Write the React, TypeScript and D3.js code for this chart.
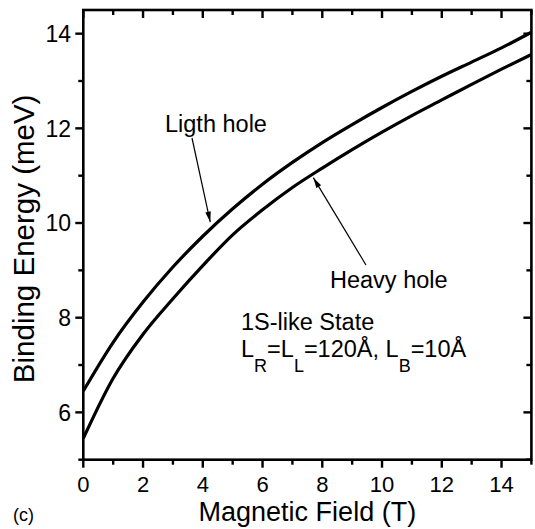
import { useEffect } from 'react'
import * as d3 from 'd3'

// Magnetic field (T)
const fieldT = [0, 1, 2, 3, 4, 5, 6, 7, 8, 9, 10, 11, 12, 13, 14, 15]
// binding energies (meV)
const lightHole = [6.45, 7.48, 8.33, 9.07, 9.72, 10.3, 10.82, 11.28, 11.7, 12.08, 12.44, 12.78, 13.1, 13.4, 13.7, 14.03]
const heavyHole = [5.45, 6.72, 7.65, 8.4, 9.1, 9.75, 10.28, 10.75, 11.16, 11.55, 11.92, 12.27, 12.6, 12.93, 13.25, 13.56]

const xMajor = [0, 2, 4, 6, 8, 10, 12, 14]
const xMinor = [1, 3, 5, 7, 9, 11, 13, 15]
const yMajor = [6, 8, 10, 12, 14]
const yMinor = [5, 7, 9, 11, 13]

const W = 535
const H = 529
const FONT = 'Liberation Sans, Arial, Helvetica, sans-serif'

export default function App() {
  useEffect(() => {
    document.body.style.margin = '0'
  }, [])

  const x = d3.scaleLinear().domain([0, 15]).range([83.3, 531.4])
  const y = d3.scaleLinear().domain([5, 14.5]).range([459.7, 10])
  const [x0, x1] = x.range()
  const [y0, y1] = y.range()

  const line = d3.line<number>()
    .x((_, i) => x(fieldT[i]))
    .y(d => y(d))
    .curve(d3.curveMonotoneX)

  const majLen = 8
  const minLen = 5
  const sub = 15 // subscript drop

  return (
    <svg width={W} height={H} style={{ display: 'block', background: '#fff' }} fontFamily={FONT}>
      <defs>
        <marker id="arr" viewBox="0 0 12 8" refX="12" refY="4" markerWidth="12" markerHeight="7" orient="auto" markerUnits="userSpaceOnUse">
          <path d="M0,0.8 L12,4 L0,7.2 Z" fill="#000" />
        </marker>
      </defs>

      {/* curves */}
      <path d={line(lightHole) ?? ''} fill="none" stroke="#000" strokeWidth={3.2} />
      <path d={line(heavyHole) ?? ''} fill="none" stroke="#000" strokeWidth={3.2} />

      {/* frame */}
      <rect x={x0} y={y1} width={x1 - x0} height={y0 - y1} fill="none" stroke="#000" strokeWidth={2.6} />

      {/* x ticks: bottom outward, top inward */}
      {xMajor.map(t => (
        <g key={'xM' + t}>
          <line x1={x(t)} x2={x(t)} y1={y0} y2={y0 + majLen} stroke="#000" strokeWidth={2.4} />
          <line x1={x(t)} x2={x(t)} y1={y1} y2={y1 + majLen} stroke="#000" strokeWidth={2.4} />
          <text x={x(t)} y={492} textAnchor="middle" fontSize={22}>{t}</text>
        </g>
      ))}
      {xMinor.map(t => (
        <g key={'xm' + t}>
          <line x1={x(t)} x2={x(t)} y1={y0} y2={y0 + minLen} stroke="#000" strokeWidth={2.4} />
          <line x1={x(t)} x2={x(t)} y1={y1} y2={y1 + minLen} stroke="#000" strokeWidth={2.4} />
        </g>
      ))}

      {/* y ticks: left outward, right inward */}
      {yMajor.map(v => (
        <g key={'yM' + v}>
          <line x1={x0 - majLen} x2={x0} y1={y(v)} y2={y(v)} stroke="#000" strokeWidth={2.4} />
          <line x1={x1 - majLen} x2={x1} y1={y(v)} y2={y(v)} stroke="#000" strokeWidth={2.4} />
          <text x={71} y={y(v)} dy="0.36em" textAnchor="end" fontSize={23}>{v}</text>
        </g>
      ))}
      {yMinor.map(v => (
        <g key={'ym' + v}>
          <line x1={x0 - minLen} x2={x0} y1={y(v)} y2={y(v)} stroke="#000" strokeWidth={2.4} />
          <line x1={x1 - minLen} x2={x1} y1={y(v)} y2={y(v)} stroke="#000" strokeWidth={2.4} />
        </g>
      ))}

      {/* axis titles */}
      <text x={(x0 + x1) / 2} y={521} textAnchor="middle" fontSize={27}>Magnetic Field (T)</text>
      <text transform={`translate(34,${(y0 + y1) / 2 + 4}) rotate(-90)`} textAnchor="middle" fontSize={29.5}>Binding Energy (meV)</text>
      <text x={13} y={521} fontSize={18}>(c)</text>

      {/* annotations */}
      <text x={165} y={131.5} fontSize={23.5}>Ligth hole</text>
      <line x1={192} y1={138} x2={x(4.25)} y2={y(10.02)} stroke="#000" strokeWidth={1.2} markerEnd="url(#arr)" />
      <text x={330} y={288} fontSize={23.5}>Heavy hole</text>
      <line x1={366} y1={265} x2={x(7.7)} y2={y(11.0) + 2} stroke="#000" strokeWidth={1.2} markerEnd="url(#arr)" />

      <text x={241} y={330} fontSize={23.5}>1S-like State</text>
      <text x={241} y={357} fontSize={23.5}>
        L<tspan fontSize={18} dy={sub}>R</tspan>
        <tspan dy={-sub}>=L</tspan><tspan fontSize={18} dy={sub}>L</tspan>
        <tspan dy={-sub}>=120Å, L</tspan><tspan fontSize={18} dy={sub}>B</tspan>
        <tspan dy={-sub}>=10Å</tspan>
      </text>
    </svg>
  )
}
